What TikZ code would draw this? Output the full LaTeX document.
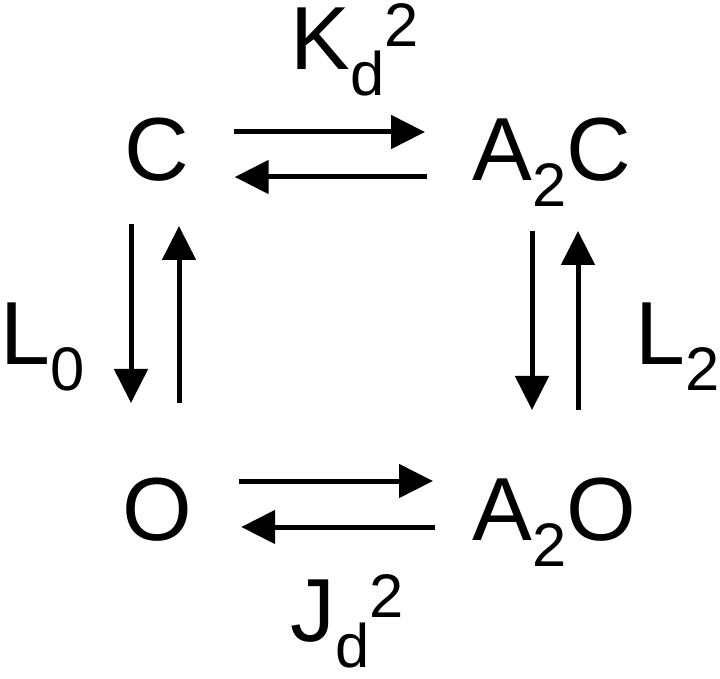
\documentclass[tikz,border=0pt]{standalone}
\usepackage{fontspec}
\setmainfont{Liberation Sans}
\usetikzlibrary{arrows.meta}

\newcommand{\lowsc}[1]{\raisebox{-0.52cm}{\fontsize{35}{40}\selectfont #1}}
\newcommand{\highsc}[1]{\raisebox{0.46cm}{\fontsize{35}{40}\selectfont #1}}

\begin{document}
\begin{tikzpicture}[
    species/.style={inner sep=0pt, font=\fontsize{51}{60}\selectfont},
    rate/.style={inner sep=0pt, font=\fontsize{51}{60}\selectfont, anchor=base west},
    rxn/.style={-{Triangle[length=6.8mm, width=6.6mm]}, line width=1mm}
]
\useasboundingbox (0,0) rectangle (14.4,13.56);

% Species
\node[species, anchor=base] (c) at (3.14,9.94) {C};
\node[species, anchor=base west] (a2c) at (9.44,9.94) {A\lowsc{2}C};
\node[species, anchor=base] (o) at (3.14,2.76) {O};
\node[species, anchor=base west] (a2o) at (9.44,2.76) {A\lowsc{2}O};

% Constants
\node[rate] (kd) at (5.8,12.16) {K\lowsc{d}\highsc{2}};
\node[rate] (jd) at (5.8,0.74) {J\lowsc{d}\highsc{2}};
\node[rate] (lzero) at (0,6.26) {L\lowsc{0}};
\node[rate] (ltwo) at (12.7,6.26) {L\lowsc{2}};

% Top pair
\draw[rxn] ([xshift=8.8mm, yshift=9.8mm]c.base east) -- ([xshift=-9.4mm, yshift=9.8mm]a2c.base west);
\draw[rxn] ([xshift=-9mm, yshift=0.8mm]a2c.base west) -- ([xshift=9mm, yshift=0.8mm]c.base east);

% Bottom pair
\draw[rxn] ([xshift=9.4mm, yshift=11.8mm]o.base east) -- ([xshift=-7.8mm, yshift=11.8mm]a2o.base west);
\draw[rxn] ([xshift=-7.4mm, yshift=2.6mm]a2o.base west) -- ([xshift=9.8mm, yshift=2.6mm]o.base east);

% Left pair
\draw[rxn] ([xshift=-5.2mm, yshift=-8.6mm]c.base) -- ([xshift=-5.2mm, yshift=27.4mm]o.base);
\draw[rxn] ([xshift=4.4mm, yshift=27.4mm]o.base) -- ([xshift=4.4mm, yshift=-9mm]c.base);

% Right pair
\draw[rxn] ([xshift=12mm, yshift=-10mm]a2c.base west) -- ([xshift=12mm, yshift=26mm]a2o.base west);
\draw[rxn] ([xshift=21.2mm, yshift=26mm]a2o.base west) -- ([xshift=21.2mm, yshift=-10mm]a2c.base west);

\end{tikzpicture}
\end{document}
